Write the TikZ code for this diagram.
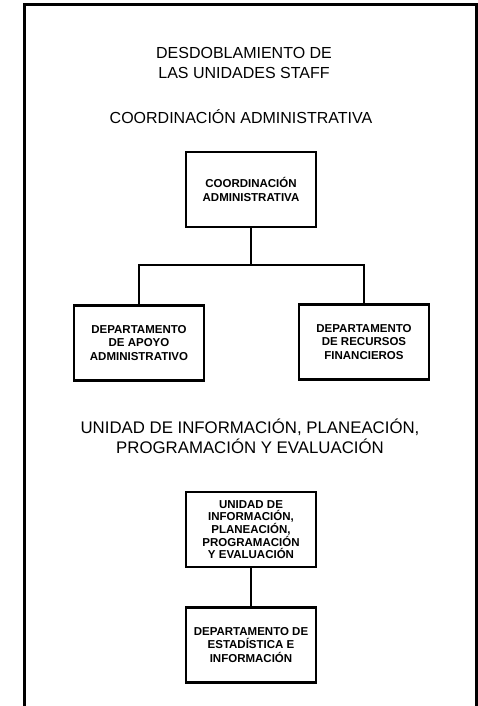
\documentclass[tikz,border=0pt]{standalone}
\usepackage{fontspec}
\setmainfont{Liberation Sans}
\usetikzlibrary{positioning}
\tikzset{
	unit/.style={
		rectangle,
		draw=black,
		line width=2.4pt,
		minimum width=130pt,
		minimum height=75pt,
		align=center,
		inner sep=2pt,
		font=\bfseries\fontsize{11.5}{13.5}\selectfont
	}
}

\begin{document}
\begin{tikzpicture}[x=1pt,y=-1pt]
			\tikzstyle{heading}=[align=center, inner sep=0pt, font=\fontsize{16}{20}\selectfont]
			\tikzstyle{connect}=[line width=2pt]
			\useasboundingbox (0,0) rectangle (478,706);
			\draw [line width=3pt] (24,706) -- (24,5) -- (476,5) -- (476,706);
			
			\node[heading] (title) at (244,63) {DESDOBLAMIENTO DE\\LAS UNIDADES STAFF};
			\node[heading] (hcadm) at (241,117) {COORDINACIÓN ADMINISTRATIVA};
			
			\node[unit] (cadm) at (251,189.5) {COORDINACIÓN\\ADMINISTRATIVA};
			\node[unit] (apoyo) [below=76pt of cadm, xshift=-112pt] {DEPARTAMENTO\\DE APOYO\\ADMINISTRATIVO};
			\node[unit] (finan) [below=75pt of cadm, xshift=113pt] {DEPARTAMENTO\\DE RECURSOS\\FINANCIEROS};
			
			\draw [connect] (cadm.south) -- ++(0,37) -| (apoyo.north);
			\draw [connect] (cadm.south) -- ++(0,37) -| (finan.north);
			
			\node[heading, font=\fontsize{16.8}{20}\selectfont] (huipp) at (250,436.5) {UNIDAD DE INFORMACIÓN, PLANEACIÓN,\\PROGRAMACIÓN Y EVALUACIÓN};
			
			\node[unit, font=\bfseries\fontsize{11.5}{11.8}\selectfont] (uipp) at (251,529.5) {UNIDAD DE\\INFORMACIÓN,\\PLANEACIÓN,\\PROGRAMACIÓN\\Y EVALUACIÓN};
			\node[unit] (estad) [below=38pt of uipp] {DEPARTAMENTO DE\\ESTADÍSTICA E\\INFORMACIÓN};
			
			\draw [connect] (uipp) -- (estad);
			
\end{tikzpicture}
\end{document}
